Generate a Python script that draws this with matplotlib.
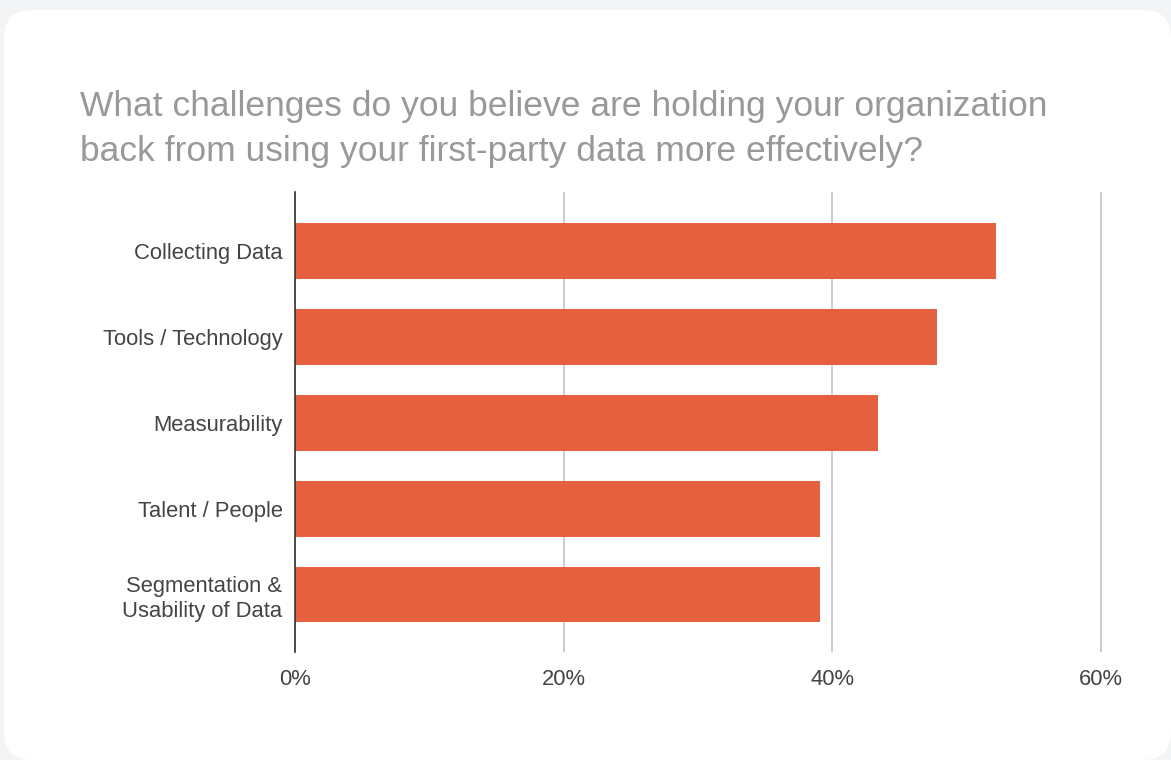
import matplotlib.pyplot as plt
from matplotlib.patches import FancyBboxPatch
from matplotlib.transforms import IdentityTransform

categories = ['Collecting Data', 'Tools / Technology', 'Measurability',
              'Talent / People', 'Segmentation &\nUsability of Data']
values = [52.2, 47.8, 43.4, 39.1, 39.1]
ticks = [0, 20, 40, 60]
tick_labels = ['0%', '20%', '40%', '60%']
title = ('What challenges do you believe are holding your organization\n'
         'back from using your first-party data more effectively?')

plt.rcParams['font.family'] = ['Liberation Sans', 'DejaVu Sans']

W, H = 1171, 760
fig = plt.figure(figsize=(W / 100, H / 100), dpi=100)
fig.patch.set_facecolor('#f3f4f6')

# white rounded card
card = FancyBboxPatch((4, 0), W - 4, H - 10,
                      boxstyle='round,pad=0,rounding_size=28',
                      transform=IdentityTransform(), facecolor='white',
                      edgecolor='none', zorder=-5)
fig.patches.append(card)

fig.text(80 / W, 1 - 90 / H, title, ha='left', va='top', fontsize=25.5,
         color='#999999', linespacing=1.48)

xmax = 60.2
ax = fig.add_axes([295 / W, 108 / H, 805.7 * xmax / 60 / W, 460 / H])
ax.set_facecolor('none')
ax.set_zorder(2)

ax.barh(range(len(values)), values, height=0.65, color='#E5603F', zorder=3)
ax.set_ylim(4.67, -0.69)
ax.set_xlim(0, xmax)

ax.set_yticks(range(len(categories)))
ax.set_yticklabels(categories, linespacing=1.22)
ax.set_xticks(ticks)
ax.set_xticklabels(tick_labels)

ax.xaxis.grid(True, color='#cccccc', linewidth=1.4, zorder=0)
ax.set_axisbelow(True)

for s in ['top', 'right', 'bottom']:
    ax.spines[s].set_visible(False)
ax.spines['left'].set_color('#333333')
ax.spines['left'].set_linewidth(1.2)
ax.spines['left'].set_zorder(4)

ax.tick_params(axis='y', length=0, pad=9, labelsize=15.8, labelcolor='#444444')
ax.tick_params(axis='x', length=0, pad=12, labelsize=15.8, labelcolor='#444444')

fig.savefig('out.png', dpi=100, facecolor=fig.get_facecolor())
